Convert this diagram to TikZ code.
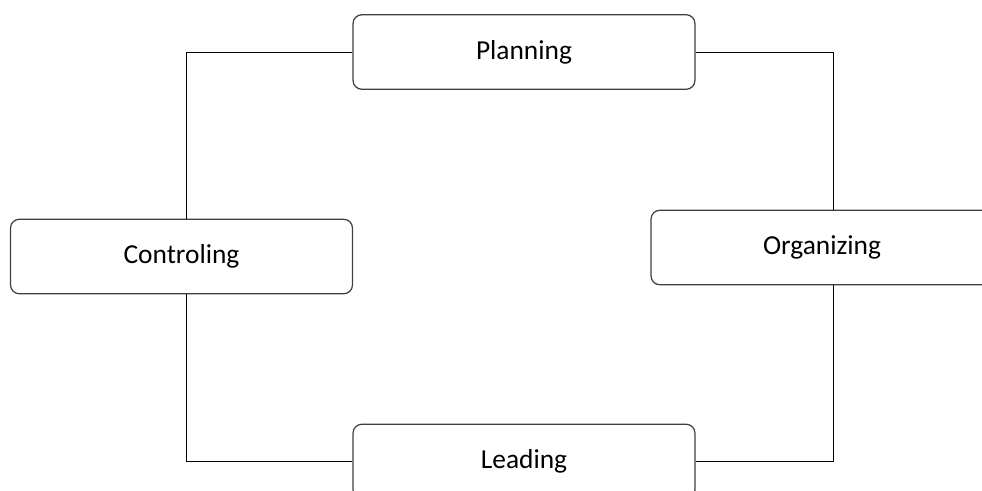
\documentclass[tikz,border=0pt]{standalone}
\usepackage{fontspec}
\setmainfont{Carlito}
\definecolor{boxgray}{RGB}{64, 64, 64}
\usepackage{tikz}
\usetikzlibrary{positioning, calc}

\begin{document}
\begin{tikzpicture}[x=0.02cm, y=-0.02cm,
  stage/.style={draw=boxgray, line width=0.7pt, rounded corners=5pt, fill=white,
    minimum width=6.84cm, minimum height=1.49cm, inner sep=0pt,
    font=\fontsize{15.6}{18}\selectfont},
  link/.style={draw=black, line width=0.55pt}]
  \useasboundingbox (0,0) rectangle (982,490);
  \clip (0,0) rectangle (982,490);

  % the four stages
  \node[stage] (plan) at (524, 52) {Planning};
  \node[stage] (ctrl) at (181.5, 256.5) {Controling};
  \node[stage] (org) at (822, 247.5) {Organizing};
  \node[stage] (lead) at (524, 461.5) {Leading};

  % connectors
  \draw[link] (plan.west) -| ($(ctrl.north)+(4.5,0)$);
  \draw[link] (plan.east) -| ($(org.north)+(11,0)$);
  \draw[link] ($(org.south)+(11,0)$) |- (lead.east);
  \draw[link] ($(ctrl.south)+(4.5,0)$) |- (lead.west);
\end{tikzpicture}
\end{document}
